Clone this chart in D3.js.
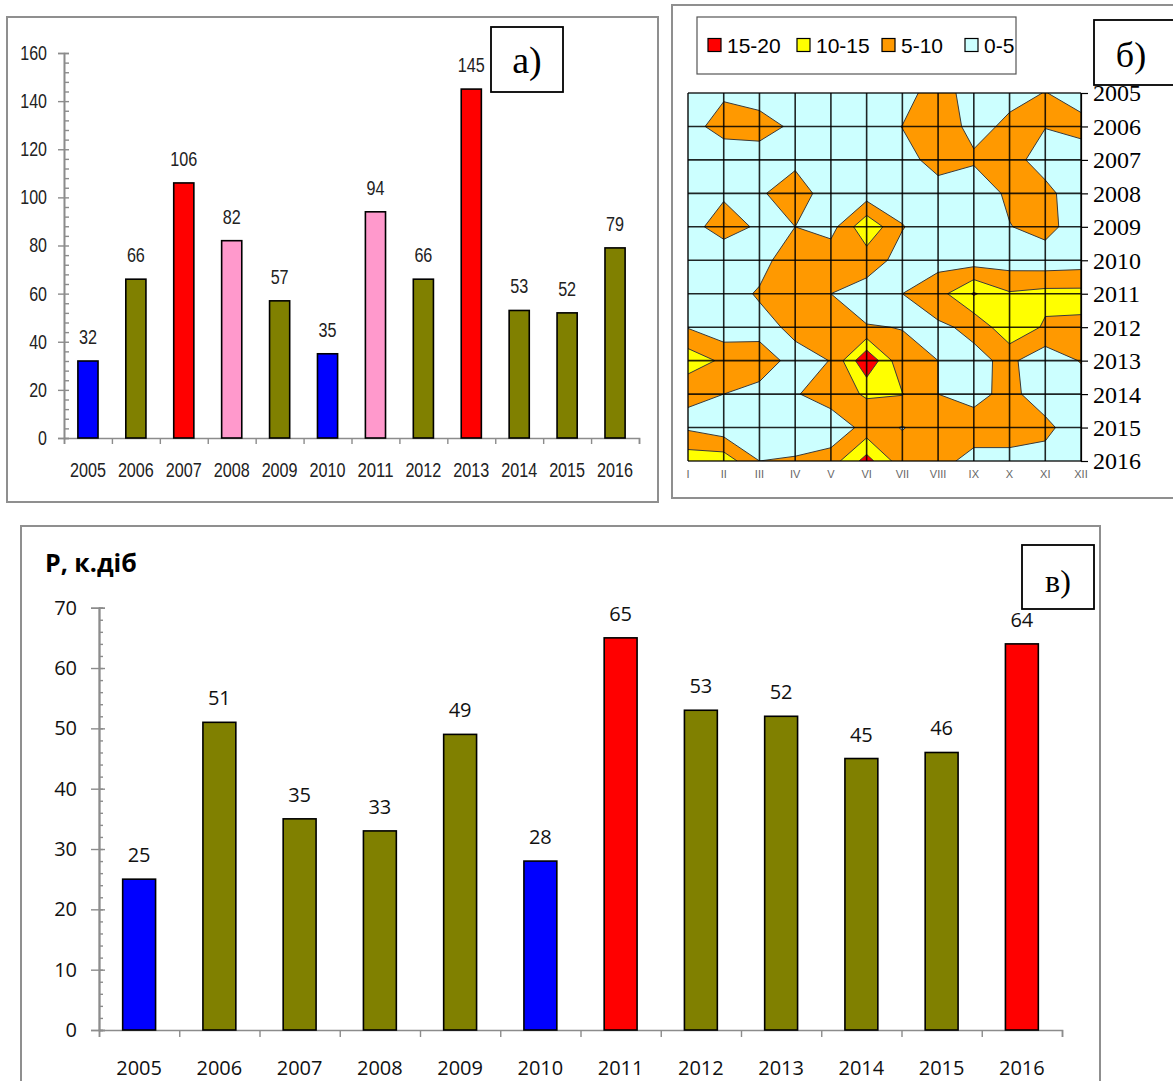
<!DOCTYPE html>
<html><head><meta charset="utf-8">
<script src="https://cdn.jsdelivr.net/npm/d3@7"></script>
<style>body{margin:0;background:#fff}svg{display:block}</style>
</head><body>
<svg id="c" width="1173" height="1081"></svg>
<script>
// ---------- DATA ----------
const years = ["2005","2006","2007","2008","2009","2010","2011","2012","2013","2014","2015","2016"];
// panel a)
const valuesA = [32,66,106,82,57,35,94,66,145,53,52,79];
const groupA  = ["blue","olive","red","pink","olive","blue","pink","olive","red","olive","olive","olive"];
const ticksA  = [0,20,40,60,80,100,120,140,160];
// panel в)
const valuesC = [25,51,35,33,49,28,65,53,52,45,46,64];
const groupC  = ["blue","olive","olive","olive","olive","blue","red","olive","olive","olive","olive","red"];
const ticksC  = [0,10,20,30,40,50,60,70];
// panel б) : rows = years 2005..2016, columns = months I..XII
const months = ["I","II","III","IV","V","VI","VII","VIII","IX","X","XI","XII"];
const row2005 = [2, 4.3, 2.8, 2.5, 2, 2, 2.6, 8, 2, 3.9, 5.1, 3.6];
const row2006 = [3.15, 7, 7, 4.0, 2.5, 2.5, 5.1, 7.5, 3.7, 5.8, 5.2, 6];
const row2007 = [2, 1.6, 2.45, 3.6, 2.5, 2.5, 3.5, 6.5, 5.64, 7.5, 2, 3.3];
const row2008 = [2.5, 4.2, 4.25, 8, 1.9, 2.3, 3, 3.3, 1.8, 6, 7, 0.6];
const row2009 = [2.9, 7.5, 4.1, 5.0, 3, 14, 5.2, 2.5, 2, 4.8, 7, 1.7];
const row2010 = [1.5, 0.8, 3.3, 8, 8.5, 7.1, 3.5, 3.3, 2.5, 2.5, 2, 2.5];
const row2011 = [2.5, 2.9, 5.5, 8, 5.0, 3.1, 5.0, 8, 15.5, 10.5, 11.5, 11.5];
const row2012 = [4.7, 1.75, 3.5, 6, 6.5, 5.2, 4.9, 4.2, 6, 14, 9.3, 9.1];
const row2013 = [13, 9, 7, 3.6, 5.1, 19.5, 6, 5, 3.9, 6, 1.8, 5.3];
const row2014 = [5.5, 5, 3.8, 4.5, 8, 10.5, 10.2, 5, 4, 6, 3, 2];
const row2015 = [4.25, 1.9, 2, 2, 1.2, 6.9, 4.8, 7, 6.5, 6.5, 6, 2.5];
const row2016 = [13, 13, 5, 5.5, 7.5, 17, 7, 6, 4, 4, 3.5, 3];
const gridRows = [row2005,row2006,row2007,row2008,row2009,row2010,row2011,row2012,row2013,row2014,row2015,row2016];
const levels = [5,10,15];
const legendLabels = ["15-20","10-15","5-10","0-5"];

// ---------- STYLE ----------
const barColors = {blue:"#0000FF", olive:"#808000", red:"#FF0000", pink:"#FF99CC"};
const levelColors = ["#FF9900","#FFFF00","#FF0000"];
const legendColors = ["#FF0000","#FFFF00","#FF9900","#CCFFFF"];
const FA = "'Liberation Sans',Arial,sans-serif";
const FC = "'Open Sans',sans-serif";
const FT = "'Liberation Serif','Times New Roman',serif";
const axisGray = "#8c8c8c";

const svg = d3.select("#c");

function narrow(sel, perChar){
  sel.each(function(){
    const t = d3.select(this);
    t.attr("textLength", t.text().length*perChar).attr("lengthAdjust","spacingAndGlyphs");
  });
}
function frame(x,y,w,h){
  svg.append("rect").attr("x",x).attr("y",y).attr("width",w).attr("height",h)
    .attr("fill","none").attr("stroke","#8f8f8f").attr("stroke-width",2);
}
function labelBox(x,y,w,h,txt,cx,by,fs){
  svg.append("rect").attr("x",x).attr("y",y).attr("width",w).attr("height",h)
    .attr("fill","#fff").attr("stroke","#000").attr("stroke-width",1.8);
  svg.append("text").attr("x",cx).attr("y",by).attr("text-anchor","middle")
    .attr("font-family",FT).attr("font-size",fs).text(txt);
}
function styleAxis(g){
  g.select(".domain").attr("stroke",axisGray).attr("stroke-width",1.6);
  g.selectAll(".tick line").attr("stroke",axisGray).attr("stroke-width",1.4);
}

// ================= PANEL a) =================
frame(7,17,651,485);
{
  const x0=64,x1=639,y0=438,y1=53;
  const x = d3.scaleBand().domain(years).range([x0,x1]);
  const xb = d3.scaleLinear().domain([0,years.length]).range([x0,x1]);
  const y = d3.scaleLinear().domain([0,160]).range([y0,y1]);
  const bw = x.bandwidth()*0.42;
  const g = svg.append("g");
  const gm = g.append("g").attr("transform",`translate(${x0},0)`)
    .call(d3.axisRight(y).tickValues(d3.range(0,161,4)).tickSize(5).tickFormat(""));
  styleAxis(gm);
  const gy = g.append("g").attr("transform",`translate(${x0},0)`)
    .call(d3.axisLeft(y).tickValues(ticksA).tickSize(6).tickPadding(11));
  styleAxis(gy);
  gy.selectAll("text").attr("font-family",FA).attr("font-size",20).attr("fill","#222").call(narrow,8.9);
  const gx = g.append("g").attr("transform",`translate(0,${y0})`)
    .call(d3.axisBottom(xb).tickValues(d3.range(0,13)).tickSize(6).tickFormat(""));
  styleAxis(gx);
  const gl = g.append("g").attr("transform",`translate(0,${y0})`)
    .call(d3.axisBottom(x).tickSize(0));
  gl.select(".domain").remove();
  gl.selectAll("text").attr("y",39).attr("dy",0).attr("font-family",FA).attr("font-size",20).attr("fill","#222").call(narrow,9);
  g.selectAll("rect.bar").data(valuesA).join("rect").attr("class","bar")
    .attr("x",(d,i)=>x(years[i])+(x.bandwidth()-bw)/2).attr("width",bw)
    .attr("y",d=>y(d)).attr("height",d=>y0-y(d))
    .attr("fill",(d,i)=>barColors[groupA[i]]).attr("stroke","#000").attr("stroke-width",1.6);
  g.selectAll("text.val").data(valuesA).join("text").attr("class","val")
    .attr("x",(d,i)=>x(years[i])+x.bandwidth()/2).attr("y",d=>y(d)-17)
    .attr("text-anchor","middle").attr("font-family",FA).attr("font-size",20).attr("fill","#222")
    .text(d=>d).call(narrow,9);
  labelBox(491,27,72,65,"а)",527,73,38);
}

// ================= PANEL б) =================
frame(672,5,520,493);
{
  const gx0=688,gx1=1081,gy0=93,gy1=461;
  const nx=months.length, ny=gridRows.length;
  const xs = d3.scaleLinear().domain([0.5,nx-0.5]).range([gx0,gx1]);
  const ys = d3.scaleLinear().domain([0.5,ny-0.5]).range([gy0,gy1]);
  const xm = d3.scaleLinear().domain([0,nx-1]).range([gx0,gx1]);
  const yy = d3.scaleLinear().domain([0,ny-1]).range([gy0,gy1]);
  svg.append("clipPath").attr("id","mapclip").append("rect")
    .attr("x",gx0).attr("y",gy0).attr("width",gx1-gx0).attr("height",gy1-gy0);
  const g = svg.append("g").attr("clip-path","url(#mapclip)");
  g.append("rect").attr("x",gx0).attr("y",gy0).attr("width",gx1-gx0).attr("height",gy1-gy0).attr("fill","#CCFFFF");
  const flat = gridRows.flat();
  const cont = d3.contours().size([nx,ny]).thresholds(levels)(flat);
  const proj = d3.geoTransform({point(px,py){ this.stream.point(xs(px), ys(py)); }});
  const path = d3.geoPath(proj);
  g.selectAll("path.lv").data(cont).join("path").attr("class","lv")
    .attr("d",path).attr("fill",(d,i)=>levelColors[i])
    .attr("stroke","#3a3a3a").attr("stroke-width",1).attr("stroke-linejoin","round");
  const gg = svg.append("g");
  gg.selectAll("line.v").data(months).join("line").attr("class","v")
    .attr("x1",(d,i)=>xm(i)).attr("x2",(d,i)=>xm(i)).attr("y1",gy0).attr("y2",gy1)
    .attr("stroke","#000").attr("stroke-width",1.6).attr("stroke-opacity",0.85);
  gg.selectAll("line.h").data(years).join("line").attr("class","h")
    .attr("x1",gx0).attr("x2",gx1).attr("y1",(d,i)=>yy(i)).attr("y2",(d,i)=>yy(i))
    .attr("stroke","#000").attr("stroke-width",1.6).attr("stroke-opacity",0.85);
  const ga = svg.append("g").attr("transform",`translate(${gx1},0)`)
    .call(d3.axisRight(yy).tickValues(d3.range(ny)).tickFormat(i=>years[i]).tickSize(7).tickPadding(5));
  ga.select(".domain").attr("stroke","#000").attr("stroke-width",1.2);
  ga.selectAll(".tick line").attr("stroke","#000").attr("stroke-width",1.2);
  ga.selectAll("text").attr("font-family",FT).attr("font-size",24).attr("fill","#000").attr("dy","0.33em");
  svg.append("g").selectAll("text").data(months).join("text")
    .attr("x",(d,i)=>xm(i)).attr("y",478).attr("text-anchor","middle")
    .attr("font-family","'Liberation Sans',Arial,sans-serif").attr("font-size",11).attr("fill","#666")
    .text(d=>d);
  svg.append("rect").attr("x",697).attr("y",17).attr("width",319).attr("height",57)
    .attr("fill","#fff").attr("stroke","#555").attr("stroke-width",1.2);
  const lx = [708,797,882,965];
  legendLabels.forEach((t,i)=>{
    svg.append("rect").attr("x",lx[i]).attr("y",38.5).attr("width",13).attr("height",13)
      .attr("fill",legendColors[i]).attr("stroke","#000").attr("stroke-width",1.2);
    svg.append("text").attr("x",lx[i]+19).attr("y",52.5)
      .attr("font-family","'Liberation Sans',Arial,sans-serif").attr("font-size",21).attr("fill","#000").text(t);
  });
  labelBox(1094,20,90,65,"б)",1131,67,36);
}

// ================= PANEL в) =================
frame(21,526,1079,570);
{
  const x0=99,x1=1062,y0=1030,y1=607.7;
  const x = d3.scaleBand().domain(years).range([x0,x1]);
  const xb = d3.scaleLinear().domain([0,years.length]).range([x0,x1]);
  const y = d3.scaleLinear().domain([0,70]).range([y0,y1]);
  const bw = x.bandwidth()*0.41;
  const g = svg.append("g");
  svg.append("text").attr("x",45).attr("y",572).attr("font-family",FC).attr("font-weight","bold")
    .attr("font-size",25).attr("fill","#000").text("Р, к.діб");
  const gm = g.append("g").attr("transform",`translate(${x0},0)`)
    .call(d3.axisRight(y).tickValues(d3.range(0,71,2)).tickSize(4).tickFormat(""));
  styleAxis(gm);
  const gmj = g.append("g").attr("transform",`translate(${x0},0)`)
    .call(d3.axisRight(y).tickValues(ticksC).tickSize(6).tickFormat(""));
  styleAxis(gmj);
  const gy = g.append("g").attr("transform",`translate(${x0},0)`)
    .call(d3.axisLeft(y).tickValues(ticksC).tickSize(8).tickPadding(14));
  styleAxis(gy);
  gy.selectAll("text").attr("font-family",FC).attr("font-size",20).attr("fill","#111");
  const gx = g.append("g").attr("transform",`translate(0,${y0})`)
    .call(d3.axisBottom(xb).tickValues(d3.range(0,13)).tickSize(7).tickFormat(""));
  styleAxis(gx);
  const gl = g.append("g").attr("transform",`translate(0,${y0})`)
    .call(d3.axisBottom(x).tickSize(0));
  gl.select(".domain").remove();
  gl.selectAll("text").attr("y",45).attr("dy",0).attr("font-family",FC).attr("font-size",20).attr("fill","#111");
  g.selectAll("rect.bar").data(valuesC).join("rect").attr("class","bar")
    .attr("x",(d,i)=>x(years[i])+(x.bandwidth()-bw)/2).attr("width",bw)
    .attr("y",d=>y(d)).attr("height",d=>y0-y(d))
    .attr("fill",(d,i)=>barColors[groupC[i]]).attr("stroke","#000").attr("stroke-width",1.6);
  g.selectAll("text.val").data(valuesC).join("text").attr("class","val")
    .attr("x",(d,i)=>x(years[i])+x.bandwidth()/2).attr("y",d=>y(d)-17)
    .attr("text-anchor","middle").attr("font-family",FC).attr("font-size",20).attr("fill","#111")
    .text(d=>d);
  labelBox(1022,545,72,64,"в)",1058,592,32);
}
</script>
</body></html>
